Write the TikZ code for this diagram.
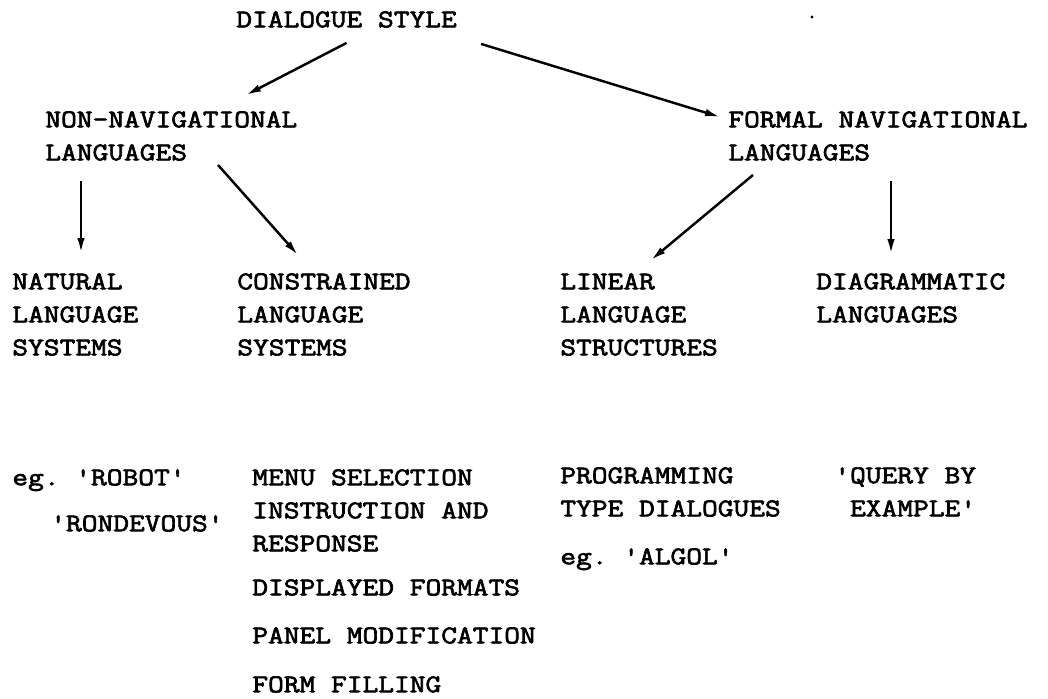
\documentclass[tikz,border=0pt]{standalone}
\usepackage{fontspec}
\setmonofont{Latin Modern Mono}[FakeStretch=1.2,FakeBold=2.5]
\usetikzlibrary{arrows.meta,calc}

\tikzset{
  lbl/.style={anchor=north west,inner sep=0pt,align=left,
    font=\ttfamily\fontsize{14.5}{18.8}\selectfont},
  arr/.style={line width=1.4pt,-{Latex[length=3mm,width=1.5mm]}}
}

\begin{document}
\begin{tikzpicture}[x=0.02cm,y=-0.02cm]
\useasboundingbox (0,0) rectangle (1048,698);
% top levels
\node[lbl] (style) at (236,11) {DIALOGUE STYLE};
\node[lbl] (nonnav) at (45,111) {NON-NAVIGATIONAL\\LANGUAGES};
\node[lbl] (formal) at (728,111) {FORMAL NAVIGATIONAL\\LANGUAGES};
\node[lbl] (natural) at (12,273) {NATURAL\\LANGUAGE\\SYSTEMS};
\node[lbl] (constr) at (237,273) {CONSTRAINED\\LANGUAGE\\SYSTEMS};
\node[lbl] (linear) at (560,273) {LINEAR\\LANGUAGE\\STRUCTURES};
\node[lbl] (diagr) at (816,273) {DIAGRAMMATIC\\LANGUAGES};
% examples
\node[lbl] (robot) at (12,469) {eg. 'ROBOT'};
\node[lbl] (rondev) at (50,515) {'RONDEVOUS'};
\node[lbl] (menu) at (252,469) {MENU SELECTION\\INSTRUCTION AND\\RESPONSE};
\node[lbl] (displ) at (252,579) {DISPLAYED FORMATS};
\node[lbl] (panel) at (252,627) {PANEL MODIFICATION};
\node[lbl] (form) at (252,676) {FORM FILLING};
\node[lbl] (prog) at (560,467) {PROGRAMMING\\TYPE DIALOGUES};
\node[lbl] (algol) at (560,548) {eg. 'ALGOL'};
\node[lbl] (query) at (834,467) {'QUERY BY\\\ EXAMPLE'};
\fill (812,17) circle (1.6);
% arrows
\draw[arr] ($(style.south)+(0,15)$) -- ($(nonnav.north west)+(201,-16)$);
\draw[arr] ($(style.south east)+(24,16)$) -- ($(formal.north west)+(-8,6)$);
\draw[arr] ($(nonnav.south west)+(36,20)$) -- ($(natural.north west)+(69,-20)$);
\draw[arr] ($(nonnav.south west)+(173,4)$) -- ($(constr.north west)+(61,-18)$);
\draw[arr] ($(formal.south west)+(25,14)$) -- ($(linear.north west)+(91,-13)$);
\draw[arr] ($(formal.south west)+(163,20)$) -- ($(diagr.north west)+(75,-19)$);
\end{tikzpicture}
\end{document}
